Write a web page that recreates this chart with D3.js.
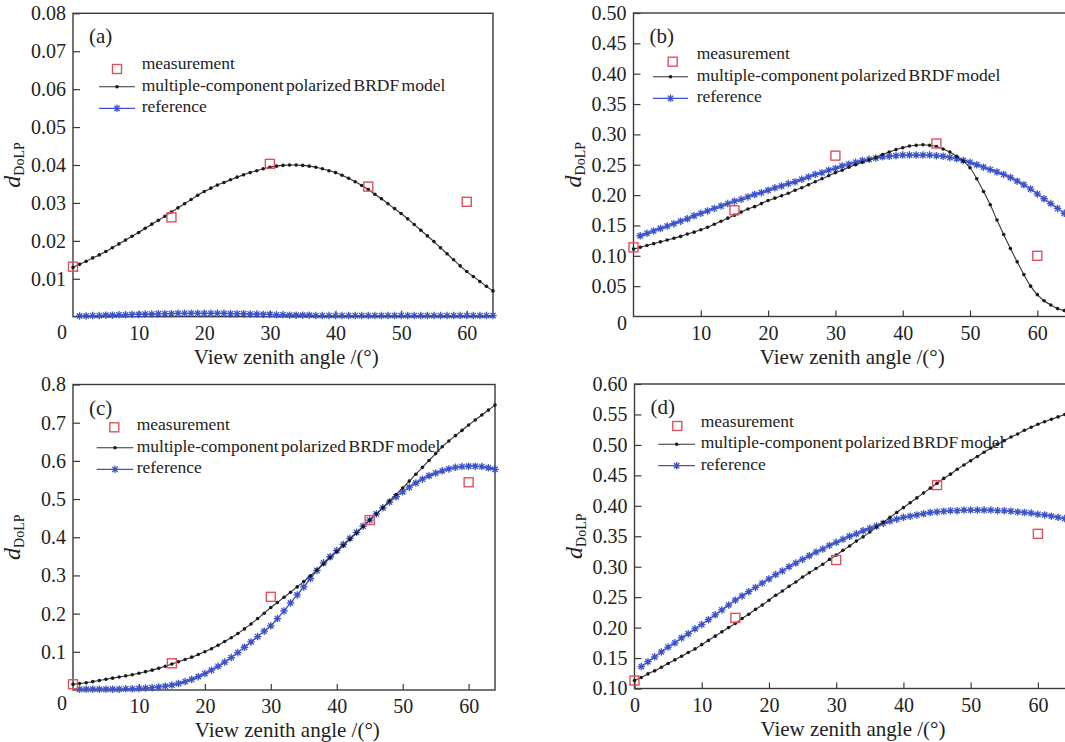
<!DOCTYPE html>
<html>
<head>
<meta charset="utf-8">
<script src="https://cdn.jsdelivr.net/npm/d3@7"></script>
<style>
  body { margin: 0; background: #fff; }
  svg text { font-family: "Liberation Serif", "DejaVu Serif", serif; }
</style>
</head>
<body>
<svg id="chart" width="1065" height="742"></svg>
<script>
// view zenith angles
const measAngles = [0, 15, 30, 45, 60];
const modelAngles = [0,1,2,3,4,5,6,7,8,9,10,11,12,13,14,15,16,17,18,19,20,21,22,23,24,25,26,27,28,29,30,31,32,
  33,34,35,36,37,38,39,40,41,42,43,44,45,46,47,48,49,50,51,52,53,54,55,56,57,58,59,60,61,62,63,64];
const refAngles = modelAngles.slice(1);

// (a)
const measA = [0.0132, 0.0262, 0.0403, 0.0343, 0.0303];
const modelA = [0.0130,0.0138,0.0146,0.0155,0.0163,0.0172,0.0182,0.0192,0.0202,0.0212,0.0222,
  0.0233,0.0244,0.0254,0.0265,0.0276,0.0287,0.0298,0.0309,0.0320,0.0330,
  0.0339,0.0347,0.0354,0.0361,0.0368,0.0374,0.0380,0.0385,0.0390,0.0394,
  0.0397,0.0399,0.0400,0.0400,0.0399,0.0397,0.0394,0.0390,0.0385,0.0380,
  0.0373,0.0365,0.0356,0.0346,0.0335,0.0323,0.0311,0.0298,0.0285,0.0272,
  0.0258,0.0243,0.0228,0.0213,0.0198,0.0182,0.0166,0.0150,0.0134,0.0119,
  0.0106,0.0093,0.0080,0.0068];
const refA = [0.0002,0.0002,0.0003,0.0003,0.0004,0.0004,0.0005,0.0005,0.0006,0.0006,
  0.0007,0.0007,0.0008,0.0008,0.0008,0.0009,0.0009,0.0009,0.0009,0.0009,
  0.0009,0.0009,0.0009,0.0008,0.0008,0.0008,0.0007,0.0007,0.0006,0.0006,
  0.0005,0.0005,0.0004,0.0004,0.0004,0.0004,0.0003,0.0003,0.0003,0.0003,
  0.0003,0.0003,0.0003,0.0003,0.0003,0.0003,0.0003,0.0003,0.0003,0.0003,
  0.0003,0.0003,0.0003,0.0003,0.0003,0.0003,0.0003,0.0003,0.0003,0.0003,
  0.0003,0.0003,0.0003,0.0003];

// (b)
const measB = [0.114, 0.175, 0.265, 0.285, 0.100];
const modelB = [0.111,0.114,0.117,0.120,0.123,0.126,0.129,0.132,0.136,0.139,0.143,
  0.147,0.152,0.157,0.162,0.167,0.172,0.177,0.181,0.186,0.191,
  0.195,0.199,0.203,0.208,0.212,0.217,0.222,0.227,0.232,0.237,
  0.241,0.246,0.250,0.254,0.258,0.262,0.267,0.271,0.275,0.278,
  0.281,0.282,0.283,0.282,0.280,0.276,0.271,0.264,0.256,0.245,
  0.227,0.206,0.184,0.159,0.135,0.112,0.090,0.069,0.050,0.036,
  0.026,0.019,0.013,0.010];
const refB = [0.133,0.137,0.141,0.145,0.149,0.153,0.157,0.161,0.166,0.170,
  0.174,0.178,0.182,0.186,0.190,0.193,0.197,0.201,0.204,0.208,
  0.212,0.215,0.219,0.222,0.226,0.230,0.234,0.237,0.241,0.244,
  0.248,0.251,0.254,0.257,0.259,0.261,0.263,0.264,0.265,0.266,
  0.266,0.266,0.266,0.266,0.265,0.264,0.262,0.260,0.257,0.254,
  0.250,0.246,0.242,0.238,0.234,0.229,0.223,0.217,0.210,0.202,
  0.194,0.186,0.178,0.170];

// (c)
const measC = [0.015, 0.070, 0.244, 0.445, 0.544];
const modelC = [0.015,0.017,0.019,0.022,0.025,0.028,0.031,0.034,0.037,0.040,0.044,
  0.048,0.052,0.057,0.062,0.068,0.074,0.080,0.086,0.093,0.100,
  0.108,0.117,0.127,0.137,0.148,0.160,0.173,0.187,0.201,0.216,
  0.229,0.243,0.256,0.270,0.284,0.299,0.314,0.330,0.346,0.362,
  0.378,0.395,0.411,0.428,0.445,0.461,0.478,0.495,0.512,0.529,
  0.547,0.565,0.583,0.601,0.619,0.637,0.652,0.666,0.680,0.694,
  0.707,0.720,0.733,0.746];
const refC = [0.002,0.002,0.002,0.002,0.002,0.002,0.002,0.003,0.003,0.004,
  0.005,0.006,0.008,0.010,0.013,0.017,0.022,0.028,0.035,0.043,
  0.052,0.062,0.073,0.085,0.098,0.112,0.126,0.140,0.154,0.168,
  0.187,0.207,0.228,0.249,0.270,0.292,0.313,0.333,0.349,0.365,
  0.381,0.397,0.413,0.429,0.445,0.461,0.477,0.492,0.506,0.519,
  0.531,0.542,0.552,0.561,0.568,0.574,0.579,0.583,0.585,0.586,
  0.586,0.585,0.582,0.578];

// (d)
const measD = [0.113, 0.216, 0.311, 0.434, 0.354];
const modelD = [0.113,0.118,0.124,0.129,0.135,0.141,0.147,0.153,0.159,0.165,0.172,
  0.179,0.186,0.193,0.200,0.207,0.215,0.222,0.230,0.237,0.245,
  0.253,0.260,0.268,0.275,0.283,0.290,0.297,0.304,0.312,0.319,
  0.327,0.334,0.342,0.349,0.357,0.365,0.373,0.381,0.389,0.397,
  0.405,0.413,0.421,0.429,0.437,0.445,0.452,0.460,0.467,0.474,
  0.481,0.488,0.495,0.501,0.507,0.513,0.518,0.524,0.529,0.534,
  0.538,0.542,0.546,0.550];
const refD = [0.136,0.144,0.152,0.160,0.168,0.175,0.183,0.190,0.198,0.205,
  0.213,0.221,0.229,0.237,0.245,0.252,0.259,0.266,0.273,0.280,
  0.287,0.293,0.300,0.306,0.312,0.318,0.324,0.329,0.335,0.340,
  0.345,0.350,0.354,0.359,0.363,0.367,0.371,0.375,0.378,0.381,
  0.383,0.385,0.387,0.389,0.390,0.391,0.392,0.392,0.393,0.393,
  0.393,0.393,0.393,0.392,0.392,0.391,0.390,0.389,0.388,0.386,
  0.385,0.383,0.381,0.379];

// tick labels
const xTicksABC = [10, 20, 30, 40, 50, 60];
const xTicksD = [0, 10, 20, 30, 40, 50, 60];
const yTicksA = [0.01, 0.02, 0.03, 0.04, 0.05, 0.06, 0.07, 0.08];
const yTicksB = [0.05, 0.10, 0.15, 0.20, 0.25, 0.30, 0.35, 0.40, 0.45, 0.50];
const yTicksC = [0.1, 0.2, 0.3, 0.4, 0.5, 0.6, 0.7, 0.8];
const yTicksD = [0.10, 0.15, 0.20, 0.25, 0.30, 0.35, 0.40, 0.45, 0.50, 0.55, 0.60];
const legendLabels = ["measurement", "multiple-component polarized BRDF model", "reference"];

const RED = "#e0505c", BLUE = "#3b52c8", BLACK = "#1a1a1a", AXIS = "#3a3a3a";
const SERIF = '"Liberation Serif", "DejaVu Serif", serif';

const panels = [
  { tag: "(a)", meas: measA, model: modelA, ref: refA, xMax: 64, yDom: [0, 0.08], yTicks: yTicksA, fmt: ".2f", xTicks: xTicksABC,
    left: 73, right: 493, top: 13.3, bottom: 316.7, zero: [62, 332],
    leg: { tx: 68.7, ty: 50, lx0: 26, lx1: 62, mx: 44, my: 55.7 } },
  { tag: "(b)", meas: measB, model: modelB, ref: refB, xMax: 65, yDom: [0, 0.5], yTicks: yTicksB, fmt: ".2f", xTicks: xTicksABC,
    left: 633.5, right: 1071, top: 13, bottom: 316.5, zero: [622, 323],
    leg: { tx: 63.2, ty: 40.3, lx0: 19.5, lx1: 54.5, mx: 39.2, my: 48.7 } },
  { tag: "(c)", meas: measC, model: modelC, ref: refC, xMax: 64, yDom: [0, 0.8], yTicks: yTicksC, fmt: ".1f", xTicks: xTicksABC,
    left: 73, right: 495, top: 384.5, bottom: 690, zero: [62, 703],
    leg: { tx: 63.7, ty: 39.8, lx0: 23.7, lx1: 60.3, mx: 41.3, my: 42.8 } },
  { tag: "(d)", meas: measD, model: modelD, ref: refD, xMax: 65, yDom: [0.1, 0.6], yTicks: yTicksD, fmt: ".2f", xTicks: xTicksD,
    left: 634.5, right: 1071.5, top: 384, bottom: 688.5, zero: null,
    leg: { tx: 66.2, ty: 36.7, lx0: 23.8, lx1: 60.5, mx: 42.8, my: 42 } }
];

const svg = d3.select("#chart").attr("font-family", SERIF);

function star(g, x, y, s) {
  const r = s / 2, d = r * 0.72;
  g.append("path")
    .attr("d", `M${x - r},${y}H${x + r}M${x},${y - r}V${y + r}M${x - d},${y - d}L${x + d},${y + d}M${x - d},${y + d}L${x + d},${y - d}`)
    .attr("stroke", BLUE).attr("stroke-width", 1.3).attr("fill", "none");
}

panels.forEach(p => {
  const x = d3.scaleLinear().domain([0, p.xMax]).range([p.left, p.right]);
  const y = d3.scaleLinear().domain(p.yDom).range([p.bottom, p.top]);
  const g = svg.append("g");

  // axes, ticks inward
  const ya = g.append("g").attr("transform", `translate(${p.left},0)`)
    .call(d3.axisLeft(y).tickValues(p.yTicks).tickFormat(d3.format(p.fmt)).tickSizeInner(-7).tickSizeOuter(0).tickPadding(7));
  const xa = g.append("g").attr("transform", `translate(0,${p.bottom})`)
    .call(d3.axisBottom(x).tickValues(p.xTicks).tickFormat(d3.format("d")).tickSizeInner(-6).tickSizeOuter(0).tickPadding(9));
  [ya, xa].forEach(a => {
    a.select(".domain").remove();
    a.attr("font-family", SERIF).attr("font-size", 20);
    a.selectAll("line").attr("stroke", AXIS).attr("stroke-width", 1.2);
    a.selectAll("text").attr("fill", "#222").attr("font-family", SERIF).attr("font-size", 20);
  });

  g.append("rect")
    .attr("x", p.left).attr("y", p.top)
    .attr("width", p.right - p.left).attr("height", p.bottom - p.top)
    .attr("fill", "none").attr("stroke", AXIS).attr("stroke-width", 1.4);

  if (p.zero) {
    g.append("text").attr("x", p.zero[0]).attr("y", p.zero[1])
      .attr("text-anchor", "middle").attr("dominant-baseline", "central")
      .attr("font-size", 20).attr("fill", "#222").text("0");
  }

  // reference (blue)
  const refPts = refAngles.map((a, i) => [a, p.ref[i]]);
  g.append("path").datum(refPts)
    .attr("d", d3.line().x(d => x(d[0])).y(d => y(d[1])).curve(d3.curveMonotoneX))
    .attr("fill", "none").attr("stroke", BLUE).attr("stroke-width", 1.3);
  refPts.forEach(d => star(g, x(d[0]), y(d[1]), 7.5));

  // model (black)
  const modPts = modelAngles.map((a, i) => [a, p.model[i]]);
  g.append("path").datum(modPts)
    .attr("d", d3.line().x(d => x(d[0])).y(d => y(d[1])).curve(d3.curveMonotoneX))
    .attr("fill", "none").attr("stroke", "#333").attr("stroke-width", 1.1);
  g.selectAll(".dot").data(modPts).enter().append("circle")
    .attr("cx", d => x(d[0])).attr("cy", d => y(d[1])).attr("r", 1.8).attr("fill", BLACK);

  // measurement squares
  g.selectAll(".sq").data(measAngles.map((a, i) => [a, p.meas[i]])).enter().append("rect")
    .attr("x", d => x(d[0]) - 4.5).attr("y", d => y(d[1]) - 4.5)
    .attr("width", 9).attr("height", 9)
    .attr("fill", "none").attr("stroke", RED).attr("stroke-width", 1.4);

  // panel tag
  g.append("text").attr("x", p.left + 16).attr("y", p.top + 30)
    .attr("font-size", 21).attr("fill", "#222").text(p.tag);

  // legend
  const L = p.leg;
  legendLabels.forEach((t, i) => {
    g.append("text").attr("x", p.left + L.tx).attr("y", p.top + L.ty + i * 21.5)
      .attr("dominant-baseline", "central").attr("font-size", 17.5).attr("word-spacing", "-2px")
      .attr("fill", "#222").text(t);
  });
  g.append("rect").attr("x", p.left + L.mx - 4.5).attr("y", p.top + L.my - 4.5)
    .attr("width", 9).attr("height", 9).attr("fill", "none").attr("stroke", RED).attr("stroke-width", 1.4);
  const ly1 = p.top + L.ty + 21.5 + 2, ly2 = p.top + L.ty + 43 + 2;
  g.append("line").attr("x1", p.left + L.lx0).attr("x2", p.left + L.lx1).attr("y1", ly1).attr("y2", ly1)
    .attr("stroke", "#333").attr("stroke-width", 1.1);
  g.append("circle").attr("cx", p.left + (L.lx0 + L.lx1) / 2).attr("cy", ly1).attr("r", 1.8).attr("fill", BLACK);
  g.append("line").attr("x1", p.left + L.lx0).attr("x2", p.left + L.lx1).attr("y1", ly2).attr("y2", ly2)
    .attr("stroke", BLUE).attr("stroke-width", 1.3);
  star(g, p.left + (L.lx0 + L.lx1) / 2, ly2, 7.5);

  // axis titles
  g.append("text").attr("x", x(32.5)).attr("y", p.bottom + 47)
    .attr("text-anchor", "middle").attr("font-size", 21).attr("fill", "#222")
    .text("View zenith angle /(°)");
  const yl = g.append("text")
    .attr("transform", `translate(${p.left - 53},${(p.top + p.bottom) / 2}) rotate(-90)`)
    .attr("text-anchor", "middle").attr("fill", "#222");
  yl.append("tspan").attr("font-style", "italic").attr("font-size", 24).text("d");
  yl.append("tspan").attr("dy", 4).attr("font-size", 14).text("DoLP");
});
</script>
</body>
</html>
